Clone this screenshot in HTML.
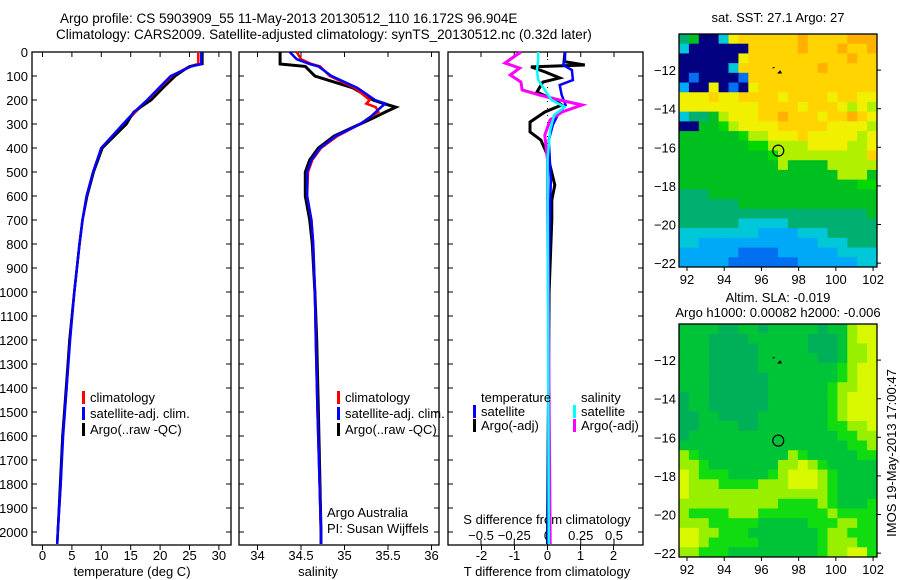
<!DOCTYPE html>
<html><head><meta charset="utf-8"><style>
html,body{margin:0;padding:0;background:#fff;}
svg{display:block;font-family:"Liberation Sans",sans-serif;}
text{fill:#000;}
</style></head><body>
<svg id="c" width="900" height="580" viewBox="0 0 900 580" xmlns="http://www.w3.org/2000/svg">
<text x="60" y="23" font-size="13.5">Argo profile: CS 5903909_55 11-May-2013 20130512_110 16.172S 96.904E</text>
<text x="56" y="39" font-size="13.5">Climatology: CARS2009. Satellite-adjusted climatology: synTS_20130512.nc (0.32d later)</text>
<g id="g"></g>
</svg>
<script>
// ---- profile data ----
var depthsT=[0,50,60,100,150,200,250,300,400,500,600,700,800,1000,1200,1400,1600,1800,2000,2050];
var tClim=[26.5,26.5,25,22,20,18,15.8,13.9,10,8.6,7.5,6.8,6.3,5.4,4.6,4.1,3.4,3.1,2.6,2.5];
var tSat=[27.0,27.0,25.3,21.8,19.8,17.8,15.6,13.7,10,8.6,7.5,6.8,6.3,5.4,4.7,4.1,3.5,3.1,2.6,2.5];
var tArgo=[27.2,27.2,25,22.6,20.5,18.5,15.5,14.3,10.2,8.7,7.6,6.8,6.3,5.4,4.6,4.0,3.4,3.0,2.6,2.5];
var depthsS=[0,30,50,60,100,150,200,215,230,250,270,300,350,400,450,500,600,700,800,1000,1200,1500,2000,2050];
var sClim=[34.45,34.5,34.62,34.72,34.83,35.12,35.29,35.25,35.36,35.39,35.3,35.18,34.92,34.73,34.63,34.58,34.57,34.62,34.64,34.66,34.67,34.69,34.73,34.73];
var sSat=[34.37,34.45,34.6,34.7,34.85,35.15,35.35,35.47,35.42,35.36,35.3,35.18,34.9,34.72,34.62,34.57,34.57,34.62,34.64,34.66,34.67,34.69,34.73,34.73];
var sArgo=[34.26,34.26,34.26,34.55,34.66,35.1,35.33,35.45,35.59,35.47,35.36,35.18,34.88,34.7,34.6,34.55,34.55,34.6,34.63,34.66,34.68,34.70,34.73,34.73];
var dTSatDepths=[0,33,54,75,117,138,179,221,263,304,367,533,875,2050];
var dTSat=[0.53,0.53,0.47,0.74,0.77,0.37,0.43,0.55,0.31,0.16,0.04,0.1,0.04,0.01];
var dTArgoDepths=[0,40,54,62,83,108,125,167,200,221,250,292,333,367,429,554,617,700,1000,2050];
var dTArgo=[0.53,0.5,1.13,-0.5,-0.08,0.37,-0.14,-0.32,0.22,0.43,-0.08,-0.53,-0.53,-0.2,0,0.22,0.13,0.13,0.05,0];
var dSSatDepths=[0,33,75,117,158,200,229,263,325,450,2050];
var dSSat=[-0.07,-0.07,-0.08,-0.07,-0.02,0.03,0.13,0.05,0.02,0,0.01];
var dSArgoDepths=[0,46,67,96,125,158,179,200,221,250,283,346,450,600,2050];
var dSArgo=[-0.2,-0.32,-0.21,-0.28,-0.2,-0.19,-0.06,0.09,0.26,0.11,0.02,-0.02,0,0,0.02];
var depthTicks=[0,100,200,300,400,500,600,700,800,900,1000,1100,1200,1300,1400,1500,1600,1700,1800,1900,2000];
var tTicks=[0,5,10,15,20,25,30];
var sTicks=[34,34.5,35,35.5,36];
var dTTicks=[-2,-1,0,1,2];
var dSTicks=[-0.5,-0.25,0,0.25,0.5];
// ---- map data (rows top->bottom, cols west->east) ----
var sstGrid=["qgDDtyYYYYYYoYYYYooo","tDDDDDDYYYYYoYYYoYYo","DDDDDDyYYYYYYYYYYoYY","DDDDDtYYYYYYYYoYYYYY","DbDDDDbYYYYYYYYYYYYY","cDDyDbDyYYYYYYYYYYYY","yyyYyyYYYYyYYYYyYYyy","yyyyyyyyYYYYyYYYylyl","tqqglyyyYYoYYYyYYoYy","DDggGlyyyyYYYYYyyyyl","ggggggGllyyyYyyyyyly","gggggggGGllllyyyylly","gggggggggGlllllllllY","gggggggggglgggglllll","gggggggggggggggglllg","ggggggggggggggggggGG","qqqggggggggggggggggg","qqqqqqgggggggggggggg","qqqqqqqqqqqqqqqqqqqg","qqqqqqtttttqqqqqqqqq","ttttttttcccctttqqqqq","ttcccccccccccctttqqq","ccccccbbbbcccccctttt","cccccbbbbbbbcccccctt"];
var slaGrid=["mmmmddmmdmmmmmdmmlyy","mmmddddmmmmmmdddmlyy","mmmdddddmmmmmdddmlly","mmmdddddmmmmmmddmlly","mmmdddddmmmmmmmmglyy","mmmddddddmmmmmmmglyy","mmmddddddmmmmmmgllyy","dmmddddddmmmmmmglyyy","dmmddddddmmmmmmglyyy","ddmmddddmmmmmmmglyyy","ddmmmmddmmmmmmmgglly","dmmmmmmmmmmmmmmmggll","mmmmmmmmmmmmmmmmmggl","lgmmmmmmmmmlgmmmmmgg","llgmmmmmmmllylgmmmmm","ylgggmmmmglyyylgmmmm","ylllgggglllyyylgmmmm","yllllllllllllllgmmmm","llllllllllgggglgmmmg","lgggglllggggggglgggg","lllgggggmmmmmgggllgg","yyllgggmmmmmmmgllggg","yylgggggmmmmmmglllgg","llgggmmmmmmmmmgllyyg"];
var lonTicks=[92,94,96,98,100,102];
var latTicks=[-12,-14,-16,-18,-20,-22];
var argoLon=96.904, argoLat=-16.172;

var NS="http://www.w3.org/2000/svg";
var G=document.getElementById('g');
function el(tag,attrs,parent){var e=document.createElementNS(NS,tag);for(var k in attrs)e.setAttribute(k,attrs[k]);(parent||G).appendChild(e);return e;}
function txt(x,y,s,anchor,size,name){var t=el('text',{x:x,y:y,'font-size':size||13,'text-anchor':anchor||'start'});t.textContent=s;


return t;}

var TOP=52, BOT=545;
function yD(d){return TOP+d*0.24;}
function xT(t){return 42.5+t*5.88;}
function xS(s){return 257.5+(s-34)*87;}
function xDT(v){return 547.5+v*33;}
function xDS(v){return 547.5+v*133;}

function line(ds,vs,fx,color,name,w){
  var pts=[];for(var i=0;i<ds.length;i++)pts.push(fx(vs[i]).toFixed(1)+','+yD(ds[i]).toFixed(1));
  var p=el('polyline',{points:pts.join(' '),fill:'none',stroke:color,'stroke-width':w||2.5,'stroke-linejoin':'miter'});
  
  
}

function panel(x0,x1,name){
  var r=el('rect',{x:x0,y:TOP,width:x1-x0,height:BOT-TOP,fill:'none',stroke:'#000','stroke-width':1.3});
  
  
  depthTicks.forEach(function(d){var y=yD(d);
    el('line',{x1:x0,x2:x0+5,y1:y,y2:y,stroke:'#000','stroke-width':1});
    el('line',{x1:x1-5,x2:x1,y1:y,y2:y,stroke:'#000','stroke-width':1});});
}
// panels
panel(32,231,'temperature-panel');
panel(239,439,'salinity-panel');
panel(448,643,'difference-panel');
depthTicks.forEach(function(d){txt(28,yD(d)+5,String(d),'end',13,'depth-tick-label');});
tTicks.forEach(function(t){var x=xT(t);el('line',{x1:x,x2:x,y1:BOT,y2:BOT+5,stroke:'#000'});el('line',{x1:x,x2:x,y1:TOP,y2:TOP+5,stroke:'#000'});txt(x,560,String(t),'middle',13,'temperature-tick-label');});
sTicks.forEach(function(s){var x=xS(s);el('line',{x1:x,x2:x,y1:BOT,y2:BOT+5,stroke:'#000'});el('line',{x1:x,x2:x,y1:TOP,y2:TOP+5,stroke:'#000'});txt(x,560,String(s),'middle',13,'salinity-tick-label');});
dTTicks.forEach(function(v){var x=xDT(v);el('line',{x1:x,x2:x,y1:BOT,y2:BOT+5,stroke:'#000'});txt(x,560,String(v),'middle',13,'t-diff-tick-label');});
dSTicks.forEach(function(v){var x=xDS(v);el('line',{x1:x,x2:x,y1:BOT-5,y2:BOT,stroke:'#000'});el('line',{x1:x,x2:x,y1:TOP,y2:TOP+5,stroke:'#000'});txt(x,540,String(v).replace('-','\u2212'),'middle',13,'s-diff-tick-label');});
txt(132,576,'temperature (deg C)','middle',13,'temperature-axis-title');
txt(318,576,'salinity','middle',13,'salinity-axis-title');
txt(547,576,'T difference from climatology','middle',13,'t-diff-axis-title');
txt(547,524,'S difference from climatology','middle',13,'s-diff-axis-title');
// zero line dotted
el('line',{x1:547.5,x2:547.5,y1:TOP,y2:BOT,stroke:'#000','stroke-width':1,'stroke-dasharray':'1,6'});

// series
line(depthsT,tClim,xT,'#ff0000','temperature-climatology-line');
line(depthsT,tArgo,xT,'#000000','temperature-argo-line');
line(depthsT,tSat,xT,'#0000ff','temperature-satellite-line');
line(depthsS,sArgo,xS,'#000000','salinity-argo-line',3);
line(depthsS,sClim,xS,'#ff0000','salinity-climatology-line');
line(depthsS,sSat,xS,'#0000ff','salinity-satellite-line');
line(dTArgoDepths,dTArgo,xDT,'#000000','t-diff-argo-line',3);
line(dTSatDepths,dTSat,xDT,'#0000ff','t-diff-satellite-line');
line(dSArgoDepths,dSArgo,xDS,'#ff00ff','s-diff-argo-line',3);
line(dSSatDepths,dSSat,xDS,'#00ffff','s-diff-satellite-line');

function legend(x,y,color,label,name){
  var m=el('rect',{x:x,y:y-11,width:3,height:13,fill:color});
  
  
  txt(x+8,y,label,'start',13,name);
}
legend(82,402,'#ff0000','climatology','legend-climatology');
legend(82,418,'#0000ff','satellite-adj. clim.','legend-satellite-adj');
legend(82,434,'#000000','Argo(..raw -QC)','legend-argo');
legend(337,402,'#ff0000','climatology','legend-climatology-sal');
legend(337,418,'#0000ff','satellite-adj. clim.','legend-satellite-adj-sal');
legend(337,434,'#000000','Argo(..raw -QC)','legend-argo-sal');
txt(481,402,'temperature','start',13,'legend-temperature-heading');
legend(473,416,'#0000ff','satellite','legend-t-satellite');
legend(473,430,'#000000','Argo(-adj)','legend-t-argo');
txt(581,402,'salinity','start',13,'legend-salinity-heading');
legend(573,416,'#00ffff','satellite','legend-s-satellite');
legend(573,430,'#ff00ff','Argo(-adj)','legend-s-argo');
txt(327,517,'Argo Australia','start',13,'credit-argo-australia');
txt(327,533,'PI: Susan Wijffels','start',13,'credit-pi');

// ---- maps ----
var sstCol={D:'#000080',b:'#0070f0',c:'#00a8f8',t:'#00c8d8',q:'#00b070',g:'#00c020',G:'#00d800',l:'#b0f000',y:'#f0f000',Y:'#ffd400',o:'#ffb000'};
var slaCol={d:'#00b058',m:'#00c438',g:'#10dc10',l:'#98f000',y:'#d8f800'};
var MX0=679,MX1=877,LON0=91.57,LON1=102.21,LAT0=-10.13,LAT1=-22.2;
function mx(lon){return MX0+(lon-LON0)/(LON1-LON0)*(MX1-MX0);}
function drawMap(y0,y1,grid,cols,name){
  function my(lat){return y0+(lat-LAT0)/(LAT1-LAT0)*(y1-y0);}
  var g=el('g',{});
  
  
  var nr=grid.length,nc=grid[0].length,cw=(MX1-MX0)/nc,ch=(y1-y0)/nr;
  for(var r=0;r<nr;r++)for(var c=0;c<nc;c++){
    var cell=el('rect',{x:(MX0+c*cw).toFixed(2),y:(y0+r*ch).toFixed(2),width:(cw+0.5).toFixed(2),height:(ch+0.5).toFixed(2),fill:cols[grid[r].charAt(c)]||'#00c020'},g);
    
    
  }
  el('rect',{x:MX0,y:y0,width:MX1-MX0,height:y1-y0,fill:'none',stroke:'#000','stroke-width':1.3});
  lonTicks.forEach(function(l){var x=mx(l);el('line',{x1:x,x2:x,y1:y1,y2:y1+4,stroke:'#000'});txt(x,y1+17,String(l),'middle',13,'lon-tick-label');});
  latTicks.forEach(function(l){var y=my(l);el('line',{x1:MX1,x2:MX1+4,y1:y,y2:y,stroke:'#000'});txt(MX0-3,y+5,String(l).replace('-','\u2212'),'end',13,'lat-tick-label');});
  var c=el('circle',{cx:mx(argoLon),cy:my(argoLat),r:5.5,fill:'none',stroke:'#000','stroke-width':1.2});
  
  
  el('path',{d:'M'+(mx(96.6)).toFixed(1)+' '+my(-11.9).toFixed(1)+' l2 -1 M'+(mx(96.9)).toFixed(1)+' '+my(-12.15).toFixed(1)+' l2 -2 l1 2 z',stroke:'#000',fill:'#000','stroke-width':1});
}
drawMap(34,267,sstGrid,sstCol,'sst-map');
drawMap(324,557,slaGrid,slaCol,'sla-map');
txt(778,22,'sat. SST: 27.1 Argo: 27','middle',13,'sst-map-title');
txt(778,302,'Altim. SLA: -0.019','middle',13,'sla-map-title');
txt(778,317,'Argo h1000: 0.00082 h2000: -0.006','middle',13,'sla-map-subtitle');
var v=txt(0,0,'IMOS 19-May-2013 17:00:47','middle',13,'imos-timestamp');
v.setAttribute('transform','translate(896,453) rotate(-90)');
</script>
</body></html>
